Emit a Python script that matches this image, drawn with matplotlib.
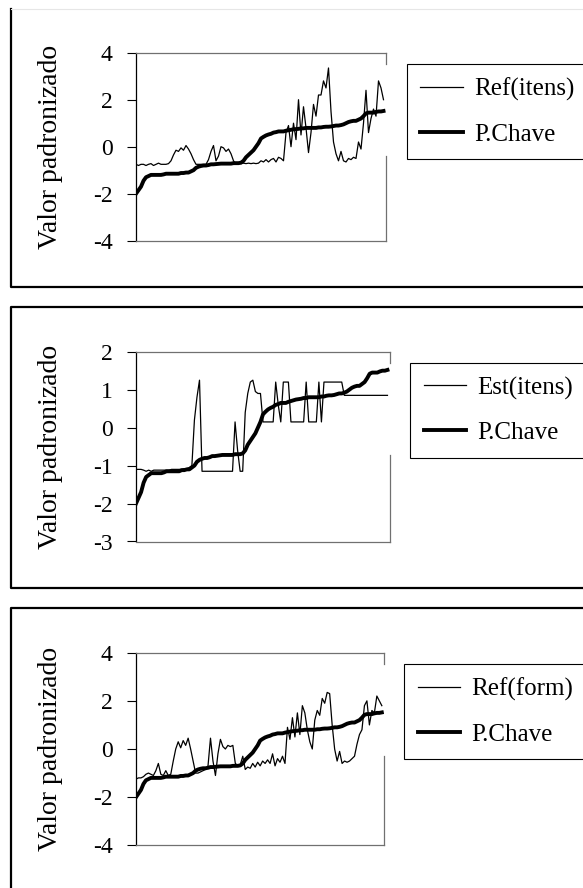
import numpy as np
import matplotlib
matplotlib.use('Agg')
import matplotlib.pyplot as plt
from matplotlib.lines import Line2D

plt.rcParams['font.family'] = 'Liberation Serif'
plt.rcParams['axes.unicode_minus'] = False

# palavra-chave (mesma curva nos tres graficos)
p_chave = [-2.0, -1.85, -1.7, -1.45, -1.3, -1.25, -1.2, -1.2, -1.2, -1.2,
           -1.2, -1.18, -1.15, -1.15, -1.15, -1.15, -1.15, -1.15, -1.12, -1.12,
           -1.1, -1.1, -1.05, -1.0, -0.9, -0.85, -0.82, -0.8, -0.8, -0.78,
           -0.75, -0.75, -0.74, -0.73, -0.72, -0.72, -0.72, -0.72, -0.72, -0.7,
           -0.7, -0.7, -0.68, -0.6, -0.45, -0.35, -0.25, -0.15, 0.0, 0.15,
           0.35, 0.42, 0.48, 0.52, 0.55, 0.6, 0.62, 0.65, 0.65, 0.65,
           0.68, 0.7, 0.72, 0.74, 0.75, 0.76, 0.78, 0.78, 0.8, 0.8,
           0.8, 0.8, 0.8, 0.82, 0.82, 0.84, 0.85, 0.85, 0.86, 0.88,
           0.9, 0.9, 0.92, 0.95, 1.0, 1.05, 1.08, 1.1, 1.1, 1.15,
           1.2, 1.3, 1.42, 1.45, 1.45, 1.45, 1.48, 1.5, 1.5, 1.52]

ref_itens = [-0.75, -0.8, -0.75, -0.75, -0.8, -0.75, -0.72, -0.8, -0.75, -0.7,
             -0.75, -0.75, -0.75, -0.72, -0.6, -0.35, -0.15, -0.2, -0.05, -0.15,
             0.05, -0.1, -0.3, -0.55, -0.75, -0.75, -0.75, -0.75, -0.75, -0.55,
             -0.2, 0.05, -0.6, -0.4, 0.0, -0.05, -0.2, -0.1, -0.3, -0.6,
             -0.75, -0.7, -0.72, -0.7, -0.72, -0.7, -0.72, -0.7, -0.72, -0.7,
             -0.6, -0.65, -0.55, -0.65, -0.55, -0.5, -0.65, -0.45, -0.5, -0.6,
             0.6, 0.9, 0.0, 1.0, 0.3, 2.0, 0.5, 1.7, 0.8, -0.25,
             0.6, 1.8, 1.3, 2.2, 2.2, 2.8, 2.5, 3.35, 1.5, 0.2,
             -0.3, -0.6, -0.2, -0.6, -0.65, -0.5, -0.55, -0.45, -0.5, 0.2,
             -0.1, 1.0, 2.4, 0.6, 1.2, 1.6, 1.3, 2.8, 2.5, 2.0]

est_itens = [-1.1, -1.1, -1.1, -1.12, -1.15, -1.12, -1.15, -1.12, -1.12, -1.12,
             -1.12, -1.12, -1.12, -1.12, -1.1, -1.1, -1.1, -1.1, -1.1, -1.08,
             -1.08, -1.05, -1.0, 0.2, 0.8, 1.25, -1.15, -1.15, -1.15, -1.15,
             -1.15, -1.15, -1.15, -1.15, -1.15, -1.15, -1.15, -1.15, -1.15, 0.15,
             -0.6, -1.15, -1.15, 0.4, 0.9, 1.2, 1.25, 0.95, 0.9, 0.9,
             0.15, 0.15, 0.15, 0.15, 0.15, 1.2, 0.6, 0.15, 1.2, 1.2,
             1.2, 0.15, 0.15, 0.15, 0.15, 0.15, 0.15, 1.2, 0.15, 0.15,
             0.15, 0.15, 1.2, 0.15, 1.2, 1.2, 1.2, 1.2, 1.2, 1.2,
             1.2, 1.2, 0.85, 0.85, 0.85, 0.85, 0.85, 0.85, 0.85, 0.85,
             0.85, 0.85, 0.85, 0.85, 0.85, 0.85, 0.85, 0.85, 0.85, 0.85]

ref_form = [-1.25, -1.2, -1.2, -1.15, -1.05, -1.0, -1.05, -1.1, -0.9, -0.6,
            -1.05, -1.1, -0.9, -1.1, -1.05, -0.5, 0.0, 0.3, 0.05, 0.35,
            0.15, 0.45, 0.0, -0.5, -1.0, -1.0, -0.95, -0.9, -0.85, -0.7,
            0.45, -0.5, -1.1, -0.2, 0.4, 0.1, 0.0, 0.15, 0.1, 0.15,
            -0.6, -0.7, -0.65, -0.3, -0.85, -0.75, -0.8, -0.6, -0.75, -0.55,
            -0.7, -0.5, -0.6, -0.45, -0.6, -0.2, -0.7, -0.4, -0.55, -0.3,
            -0.6, 0.9, 0.4, 1.3, 0.5, 1.5, 0.6, 1.8, 1.5, 0.8,
            0.3, 0.0, 1.2, 1.6, 1.4, 2.1, 1.9, 2.35, 2.3, 1.0,
            0.0, -0.5, -0.1, -0.6, -0.5, -0.55, -0.5, -0.4, -0.3, 0.2,
            0.6, 0.8, 1.8, 2.0, 1.0, 1.6, 1.5, 2.2, 2.0, 1.8]

labels = ['Ref(itens)', 'Est(itens)', 'Ref(form)']
ylims = [(-4, 4), (-3, 2), (-4, 4)]
yticks = [[-4, -2, 0, 2, 4], [-3, -2, -1, 0, 1, 2], [-4, -2, 0, 2, 4]]
series = [ref_itens, est_itens, ref_form]

W, H = 583, 888
fig = plt.figure(figsize=(W / 100, H / 100), dpi=100)

def fig_line(xs, ys, **kw):
    fig.add_artist(Line2D([x / W for x in xs], [1 - y / H for y in ys],
                          transform=fig.transFigure, **kw))

# caixas dos graficos (em pixels)
fig_line([10.5, 10.5, 600], [9, 287, 287], color='k', lw=1.6)
fig_line([10.5, 600], [9, 9], color='#e6e6e6', lw=0.8)
fig_line([600, 10.5, 10.5, 600], [307, 307, 588, 588], color='k', lw=1.6)
fig_line([600, 10.5, 10.5], [608, 608, 900], color='k', lw=1.6)

# area de plotagem: x0, x1, ytop, ybottom ; legenda: x0, ytop, ybottom
plot_px = [(136, 386, 52.7, 240.7), (136, 390, 351.7, 541.5), (136, 384.3, 652.7, 845.3)]
leg_px = [(406.7, 64, 156), (410, 362.7, 455), (404, 664, 756)]

idx = np.arange(len(p_chave))

for k in range(3):
    x0, x1, yt, yb = plot_px[k]
    ax = fig.add_axes([x0 / W, 1 - yb / H, (x1 - x0) / W, (yb - yt) / H])
    ax.plot(idx, series[k], color='k', lw=0.9, label=labels[k])
    ax.plot(idx, p_chave, color='k', lw=2.8, label='P.Chave')
    ax.set_xlim(0, 100)
    ax.set_ylim(*ylims[k])
    ax.set_yticks(yticks[k])
    ax.set_xticks([])
    ax.tick_params(axis='y', direction='out', length=6.7, width=0.8,
                   pad=10, labelsize=17)
    ax.spines['left'].set_color('k')
    ax.spines['left'].set_linewidth(0.9)
    for s in ['top', 'bottom']:
        ax.spines[s].set_color('#707070')
        ax.spines[s].set_linewidth(0.9)
    ax.spines['right'].set_visible(False)

    # borda direita interrompida na altura da legenda
    lx, lt, lb = leg_px[k]
    g_hi = (yb - lt) / (yb - yt)
    g_lo = (yb - lb) / (yb - yt)
    ax.plot([1, 1], [0, g_lo], transform=ax.transAxes, color='#707070',
            lw=0.9, clip_on=False)
    ax.plot([1, 1], [g_hi, 1], transform=ax.transAxes, color='#707070',
            lw=0.9, clip_on=False)

    leg = ax.legend(loc='upper left', bbox_to_anchor=(lx / W, 1 - lt / H, 0.5, 0),
                    bbox_transform=fig.transFigure, mode='expand', borderaxespad=0,
                    fontsize=18, handlelength=1.7, handletextpad=0.45,
                    labelspacing=0.88, borderpad=0.55, fancybox=False,
                    framealpha=1, edgecolor='k')
    leg.get_frame().set_linewidth(0.8)

    fig.text(51 / W, 1 - (yt + yb) / 2 / H, 'Valor padronizado', rotation=90,
             ha='center', va='center', fontsize=20)

fig.savefig('out.png', dpi=100)
